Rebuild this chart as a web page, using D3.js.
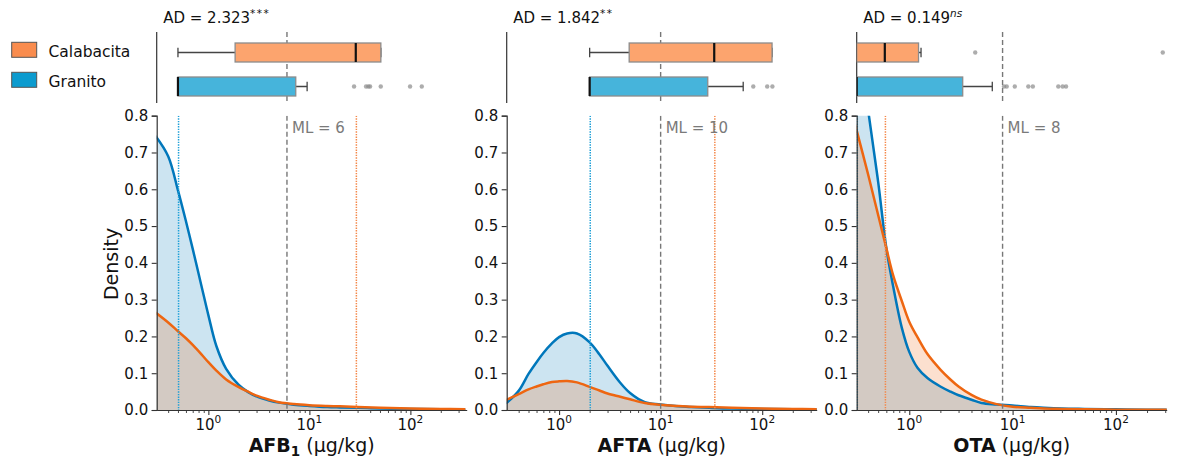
<!DOCTYPE html>
<html>
<head>
<meta charset="utf-8">
<script src="https://cdn.jsdelivr.net/npm/d3@7"></script>
<style>
  body { margin: 0; background: #fff; }
  svg { display: block; font-family: "DejaVu Sans", sans-serif; }
</style>
</head>
<body>
<script>
// ---- data ----
const toxins = ['AFB', 'AFTA', 'OTA'];
const toxinSub = ['1', '', ''];
const groups = ['Calabacita', 'Granito'];
const adValues = ['2.323', '1.842', '0.149'];
const adSig = ['***', '**', 'ns'];
const mlLimits = [6, 10, 8];
const xDomains = [[0.308, 361], [0.305, 344], [0.31, 310]];
const yTicks = [0, 0.1, 0.2, 0.3, 0.4, 0.5, 0.6, 0.7, 0.8];

// density curves (µg/kg on log axis)
const densityX = [0.3, 0.4, 0.5, 0.6, 0.7, 0.85, 1, 1.2, 1.5, 2, 2.5, 3, 4, 5, 7, 10, 15, 20, 30, 50, 100, 200, 350];
const densGranito = [
  [0.745, 0.69, 0.597, 0.513, 0.438, 0.34, 0.258, 0.174, 0.112, 0.068, 0.048, 0.037, 0.026, 0.02, 0.0145, 0.011, 0.008, 0.007, 0.006, 0.004, 0.003, 0.002, 0.001],
  [0.018, 0.052, 0.098, 0.13, 0.155, 0.181, 0.198, 0.208, 0.208, 0.184, 0.151, 0.12, 0.074, 0.046, 0.021, 0.015, 0.01, 0.008, 0.006, 0.004, 0.003, 0.002, 0.001],
  [1.05, 0.815, 0.62, 0.44, 0.335, 0.222, 0.158, 0.115, 0.087, 0.064, 0.05, 0.04, 0.028, 0.019, 0.015, 0.012, 0.008, 0.006, 0.004, 0.003, 0.002, 0.001, 0.001]
];
const densCalabacita = [
  [0.265, 0.238, 0.214, 0.195, 0.177, 0.152, 0.13, 0.107, 0.083, 0.062, 0.049, 0.039, 0.028, 0.021, 0.016, 0.013, 0.011, 0.01, 0.008, 0.006, 0.004, 0.003, 0.002],
  [0.027, 0.043, 0.056, 0.064, 0.07, 0.076, 0.078, 0.079, 0.075, 0.063, 0.053, 0.045, 0.036, 0.029, 0.019, 0.014, 0.011, 0.009, 0.008, 0.006, 0.004, 0.003, 0.002],
  [0.775, 0.64, 0.53, 0.44, 0.365, 0.295, 0.24, 0.198, 0.152, 0.11, 0.083, 0.064, 0.041, 0.028, 0.016, 0.009, 0.006, 0.004, 0.003, 0.002, 0.001, 0.001, 0.0005]
];

// box plots: [whisker low, q1, median, q3, whisker high]
const boxCalabacita = [[0.5, 1.84, 28.8, 51, 51], [2.0, 4.9, 33.7, 125, 125], [0.31, 0.31, 0.58, 1.23, 1.3]];
const boxGranito = [[0.5, 0.5, 0.5, 7.33, 9.5], [2.0, 2.0, 2.0, 29.1, 65], [0.31, 0.31, 0.31, 3.29, 6.36]];
const outCalabacita = [[], [], [4.35, 284]];
const outGranito = [
  [27.7, 36.4, 38.4, 39.9, 50.9, 99.3, 129.7],
  [81.7, 112, 126],
  [8.26, 8.77, 10.5, 14.2, 15.7, 27.7, 30.5, 32.9]
];

// ---- style ----
const lineColor = { Calabacita: '#ee6611', Granito: '#0077bb' };
const boxColor = { Calabacita: '#fca46e', Granito: '#46b4db' };
const legendColor = { Calabacita: '#f98c4e', Granito: '#0b9bcf' };
const medianColor = { Calabacita: '#f4884a', Granito: '#1fa0d8' };

const W = 1177, H = 466;
const panelW = 310, panelStep = 350, panelX0 = 156.7;
const boxTop = 32, boxBottom = 103;
const dTop = 115.7, dBottom = 410;
const boxCenter = { Calabacita: 52.5, Granito: 86.5 };
const boxHalf = 9.5;

const svg = d3.select('body').append('svg')
  .attr('width', W).attr('height', H);

const y = d3.scaleLinear().domain([0, 0.8]).range([dBottom, dTop]);

// legend
groups.forEach(function(g, i) {
  svg.append('rect')
    .attr('x', 11.7).attr('y', 42.3 + i * 30)
    .attr('width', 25).attr('height', 15)
    .attr('fill', legendColor[g]).attr('stroke', '#555').attr('stroke-width', 1);
  svg.append('text')
    .attr('x', 48.5).attr('y', 56.5 + i * 30)
    .attr('font-size', 15.5).attr('fill', '#111')
    .text(g);
});

function panel(i) {
  const x0 = panelX0 + i * panelStep;
  const x = d3.scaleLog().domain(xDomains[i]).range([x0, x0 + panelW]);
  const g = svg.append('g');

  const clipId = 'clip' + i;
  svg.append('clipPath').attr('id', clipId)
    .append('rect').attr('x', x0).attr('y', dTop)
    .attr('width', panelW).attr('height', dBottom - dTop);
  const boxClipId = 'bclip' + i;
  svg.append('clipPath').attr('id', boxClipId)
    .append('rect').attr('x', x0).attr('y', boxTop)
    .attr('width', panelW + 5).attr('height', boxBottom - boxTop);

  // --- top: AD statistic ---
  const ad = g.append('text')
    .attr('x', x0 + 6.5).attr('y', 23)
    .attr('font-size', 15).attr('fill', '#111')
    .text('AD = ' + adValues[i]);
  ad.append('tspan')
    .attr('dy', -6).attr('font-size', 10.5)
    .attr('letter-spacing', adSig[i] === 'ns' ? 0 : 1.5)
    .attr('font-style', adSig[i] === 'ns' ? 'italic' : 'normal')
    .text(adSig[i]);

  // --- box plots ---
  g.append('line')
    .attr('x1', x0).attr('x2', x0).attr('y1', boxTop).attr('y2', boxBottom)
    .attr('stroke', '#333').attr('stroke-width', 1.2);

  const bg = g.append('g').attr('clip-path', 'url(#' + boxClipId + ')');
  bg.append('line')
    .attr('x1', x(mlLimits[i])).attr('x2', x(mlLimits[i]))
    .attr('y1', boxTop).attr('y2', boxBottom)
    .attr('stroke', '#777').attr('stroke-width', 1.4).attr('stroke-dasharray', '5,3');

  const stats = { Calabacita: boxCalabacita[i], Granito: boxGranito[i] };
  const outs = { Calabacita: outCalabacita[i], Granito: outGranito[i] };
  groups.forEach(function(grp) {
    const s = stats[grp], cy = boxCenter[grp];
    const wl = '#444';
    bg.append('line').attr('x1', x(s[0])).attr('x2', x(s[1])).attr('y1', cy).attr('y2', cy)
      .attr('stroke', wl).attr('stroke-width', 1.3);
    bg.append('line').attr('x1', x(s[3])).attr('x2', x(s[4])).attr('y1', cy).attr('y2', cy)
      .attr('stroke', wl).attr('stroke-width', 1.3);
    [s[0], s[4]].forEach(function(v) {
      bg.append('line').attr('x1', x(v)).attr('x2', x(v))
        .attr('y1', cy - 4.7).attr('y2', cy + 4.7)
        .attr('stroke', wl).attr('stroke-width', 1.3);
    });
    bg.append('rect')
      .attr('x', x(s[1])).attr('y', cy - boxHalf)
      .attr('width', x(s[3]) - x(s[1])).attr('height', boxHalf * 2)
      .attr('fill', boxColor[grp]).attr('stroke', '#8c8c8c').attr('stroke-width', 1.3);
    bg.append('line').attr('x1', x(s[2])).attr('x2', x(s[2]))
      .attr('y1', cy - boxHalf).attr('y2', cy + boxHalf)
      .attr('stroke', '#111').attr('stroke-width', 2.2);
    bg.selectAll(null).data(outs[grp]).enter().append('circle')
      .attr('cx', d => x(d)).attr('cy', cy).attr('r', 2.2)
      .attr('fill', '#8a8a8a').attr('opacity', 0.7);
  });

  // --- density ---
  const dg = g.append('g').attr('clip-path', 'url(#' + clipId + ')');
  const curves = {
    Granito: densityX.map((v, k) => [v, densGranito[i][k]]),
    Calabacita: densityX.map((v, k) => [v, densCalabacita[i][k]])
  };
  const area = d3.area()
    .x(d => x(d[0])).y0(y(0)).y1(d => y(d[1]))
    .curve(d3.curveCatmullRom.alpha(0.5));
  const line = d3.line()
    .x(d => x(d[0])).y(d => y(d[1]))
    .curve(d3.curveCatmullRom.alpha(0.5));

  ['Granito', 'Calabacita'].forEach(function(grp) {
    dg.append('path').attr('d', area(curves[grp]))
      .attr('fill', lineColor[grp]).attr('fill-opacity', 0.2);
  });
  ['Granito', 'Calabacita'].forEach(function(grp) {
    dg.append('path').attr('d', line(curves[grp]))
      .attr('fill', 'none').attr('stroke', lineColor[grp]).attr('stroke-width', 2.5);
  });

  // ML line + medians
  dg.append('line')
    .attr('x1', x(mlLimits[i])).attr('x2', x(mlLimits[i]))
    .attr('y1', dTop).attr('y2', dBottom)
    .attr('stroke', '#777').attr('stroke-width', 1.4).attr('stroke-dasharray', '5,3');
  groups.forEach(function(grp) {
    const m = stats[grp][2];
    dg.append('line')
      .attr('x1', x(m) + 0.6).attr('x2', x(m) + 0.6)
      .attr('y1', dTop).attr('y2', dBottom)
      .attr('stroke', medianColor[grp]).attr('stroke-width', 1.5).attr('stroke-dasharray', '1.4,1.2');
  });
  g.append('text')
    .attr('x', x(mlLimits[i]) + 5).attr('y', 133)
    .attr('font-size', 15).attr('fill', '#7a7a7a')
    .text('ML = ' + mlLimits[i]);

  // axes
  const yAxis = g.append('g')
    .attr('transform', 'translate(' + x0 + ',0)')
    .call(d3.axisLeft(y).tickValues(yTicks).tickFormat(d3.format('.1f')).tickSize(5).tickPadding(3.5));
  yAxis.selectAll('text').attr('font-size', 15).attr('fill', '#111').attr('font-family', 'DejaVu Sans');
  yAxis.select('.domain').attr('stroke', '#333').attr('stroke-width', 1.2);
  yAxis.selectAll('.tick line').attr('stroke', '#333').attr('stroke-width', 1.1);

  const majors = [1, 10, 100];
  const minors = x.ticks().filter(v => majors.indexOf(v) < 0 && Math.abs(Math.log10(v) % 1) > 1e-6);
  const xAxis = g.append('g')
    .attr('transform', 'translate(0,' + dBottom + ')')
    .call(d3.axisBottom(x).tickValues(majors).tickFormat('').tickSize(5).tickSizeOuter(0));
  xAxis.select('.domain').attr('stroke', '#333').attr('stroke-width', 1.2);
  xAxis.selectAll('.tick line').attr('stroke', '#333').attr('stroke-width', 1.1);
  const xMinor = g.append('g')
    .attr('transform', 'translate(0,' + dBottom + ')')
    .call(d3.axisBottom(x).tickValues(minors).tickFormat('').tickSize(3).tickSizeOuter(0));
  xMinor.select('.domain').remove();
  xMinor.selectAll('.tick line').attr('stroke', '#333').attr('stroke-width', 0.9);

  majors.forEach(function(v, k) {
    const t = g.append('text')
      .attr('x', x(v)).attr('y', 430)
      .attr('text-anchor', 'middle').attr('font-size', 15).attr('fill', '#111')
      .text('10');
    t.append('tspan').attr('dy', -7).attr('font-size', 10.5).text(String(k));
  });

  // x label
  const lab = g.append('text')
    .attr('x', x0 + panelW / 2).attr('y', 452)
    .attr('text-anchor', 'middle').attr('font-size', 19).attr('fill', '#111');
  lab.append('tspan').attr('font-weight', 'bold').text(toxins[i]);
  if (toxinSub[i]) {
    lab.append('tspan').attr('font-weight', 'bold').attr('font-size', 13.5).attr('dy', 4).text(toxinSub[i]);
    lab.append('tspan').attr('dy', -4).text('\u00a0(\u03bcg/kg)');
  } else {
    lab.append('tspan').text('\u00a0(\u03bcg/kg)');
  }
}

toxins.forEach(function(t, i) { panel(i); });

svg.append('text')
  .attr('transform', 'translate(118,264) rotate(-90)')
  .attr('text-anchor', 'middle').attr('font-size', 19).attr('fill', '#111')
  .text('Density');
</script>
</body>
</html>
